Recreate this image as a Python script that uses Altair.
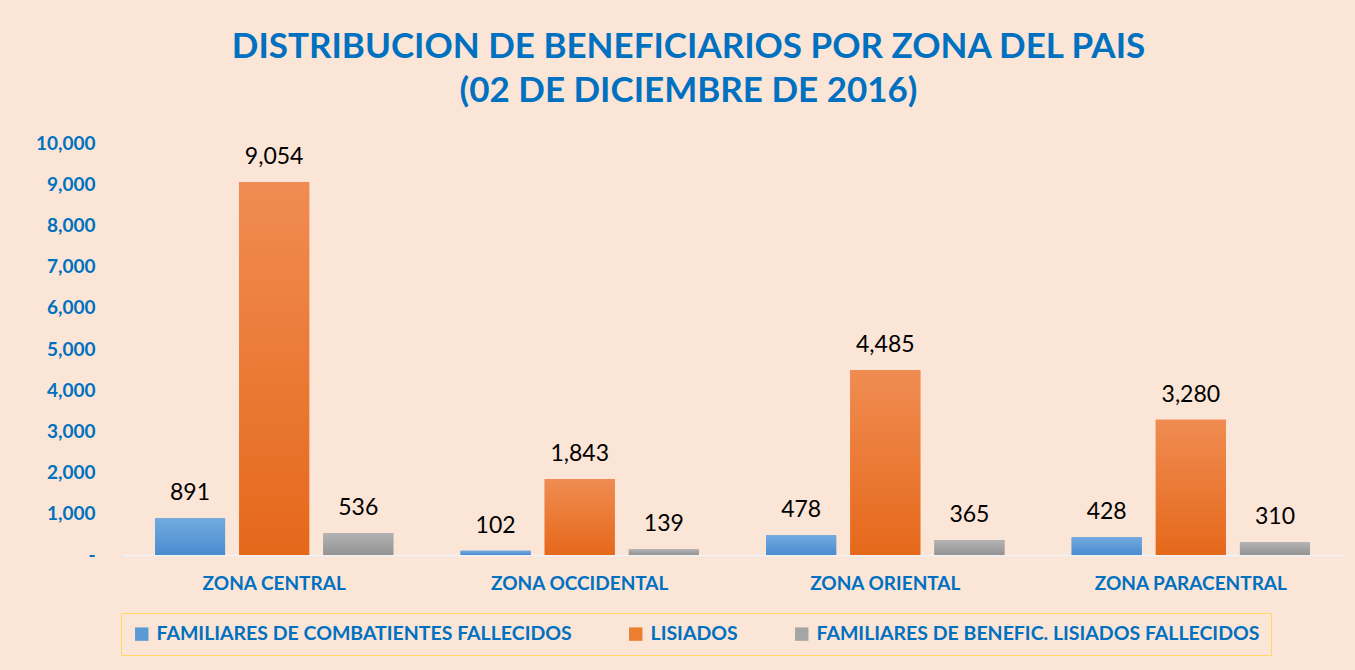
import altair as alt
import pandas as pd

zones = ["ZONA CENTRAL", "ZONA OCCIDENTAL", "ZONA ORIENTAL", "ZONA PARACENTRAL"]
series = [
    "FAMILIARES DE COMBATIENTES FALLECIDOS",
    "LISIADOS",
    "FAMILIARES DE BENEFIC. LISIADOS FALLECIDOS",
]
familiares = [891, 102, 478, 428]
lisiados = [9054, 1843, 4485, 3280]
benefic = [536, 139, 365, 310]
y_ticks = [0, 1000, 2000, 3000, 4000, 5000, 6000, 7000, 8000, 9000, 10000]
title_lines = ["DISTRIBUCION DE BENEFICIARIOS POR ZONA DEL PAIS", "(02 DE DICIEMBRE DE 2016)"]

solid = ["#5B9BD5", "#ED7D31", "#A5A5A5"]
grads = [
    ("#72AAE0", "#4A8CCF"),
    ("#F08C52", "#E5681A"),
    ("#B3B3B3", "#939393"),
]

rows = []
for i, z in enumerate(zones):
    for s, vals in zip(series, [familiares, lisiados, benefic]):
        rows.append({"zona": z, "serie": s, "valor": vals[i]})
df = pd.DataFrame(rows)

BLUE = "#0070C0"
FONT = "Lato"

x_enc = alt.X("zona:N", sort=zones, title=None,
              scale=alt.Scale(paddingInner=0.22, paddingOuter=0.108),
              axis=alt.Axis(labelAngle=0, labelFontSize=19, labelFontWeight="bold",
                            labelColor=BLUE, labelFont=FONT, labelPadding=19,
                            labelLimit=400,
                            ticks=False, domainColor="#F2F2F2", domainWidth=2))
xoff = alt.XOffset("serie:N", sort=series,
                   scale=alt.Scale(domain=series, paddingInner=0.167, paddingOuter=0))
y_enc = alt.Y("valor:Q", title=None,
              scale=alt.Scale(domain=[0, 10000], nice=False),
              axis=alt.Axis(values=y_ticks, grid=False, ticks=False, domain=False,
                            labelFontSize=19, labelFontWeight="bold", labelColor=BLUE,
                            labelFont=FONT, labelPadding=27,
                            labelExpr="datum.value == 0 ? '-\u2007' : format(datum.value, ',')"))

base = alt.Chart(df).encode(x=x_enc, xOffset=xoff, y=y_enc)

legend_bars = base.mark_bar().encode(
    color=alt.Color("serie:N", sort=series,
                    scale=alt.Scale(domain=series, range=solid),
                    legend=alt.Legend(title=None, orient="none", direction="horizontal",
                                      legendX=-1, legendY=470,
                                      labelFontSize=19.5, labelFontWeight="bold",
                                      labelColor=BLUE, labelFont=FONT,
                                      symbolType="square", symbolSize=180,
                                      symbolStrokeWidth=0, labelOffset=5,
                                      columnPadding=54, padding=11,
                                      strokeColor="#FFD966", labelLimit=700))
)

layers = [legend_bars]
for s, (c1, c2) in zip(series, grads):
    layers.append(
        base.transform_filter(alt.datum.serie == s).mark_bar(
            fill=alt.Gradient(gradient="linear", x1=0, y1=0, x2=0, y2=1,
                              stops=[alt.GradientStop(color=c1, offset=0),
                                     alt.GradientStop(color=c2, offset=1)])
        )
    )

labels = base.mark_text(baseline="bottom", dy=-13, fontSize=23, font=FONT,
                        color="#000000").encode(text=alt.Text("valor:Q", format=","))
layers.append(labels)

chart = alt.layer(*layers).properties(
    width=1221, height=412,
    title=alt.TitleParams(text=title_lines, fontSize=35, fontWeight="bold", color=BLUE,
                          font=FONT, lineHeight=44, anchor="middle", dx=-44, offset=25),
    background="#FBE5D6",
    padding={"left": 122, "top": 143, "right": 12, "bottom": 115},
    autosize=alt.AutoSizeParams(type="none"),
).configure_view(stroke=None)

chart.save("out.html", embed_options={"renderer": "svg", "actions": False})
